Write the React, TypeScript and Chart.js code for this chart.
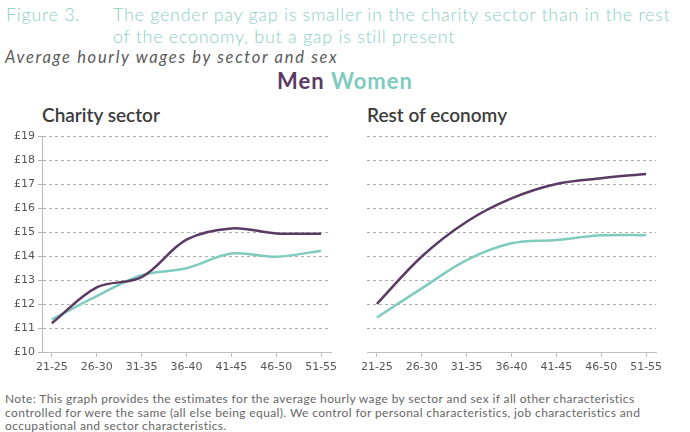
import React, { useEffect, useRef } from "react";
import { Chart, registerables } from "chart.js";

Chart.register(...registerables);

const ageGroups = ["21-25", "26-30", "31-35", "36-40", "41-45", "46-50", "51-55"];
const charityMen = [11.2, 12.69, 13.12, 14.68, 15.15, 14.94, 14.93];
const charityWomen = [11.36, 12.33, 13.2, 13.49, 14.1, 13.97, 14.22];
const restMen = [12.0, 13.98, 15.43, 16.4, 17.0, 17.24, 17.42];
const restWomen = [11.44, 12.65, 13.83, 14.53, 14.67, 14.86, 14.87];
const wageTicks = [10, 11, 12, 13, 14, 15, 16, 17, 18, 19];

const MEN_COLOR = "#5a3a63";
const WOMEN_COLOR = "#7fcbbf";
const AXIS_COLOR = "#bdbdbd";
const GRID_COLOR = "#b0b0b0";

function buildConfig(men: number[], women: number[], showY: boolean, yWidth: number, padRight: number): any {
  const toPoints = (arr: number[]) => arr.map((v, i) => ({ x: i, y: v }));
  const lineStyle = { borderWidth: 2.5, pointRadius: 0, tension: 0.35, fill: false };
  return {
    type: "line",
    data: {
      datasets: [
        { label: "Men", data: toPoints(men), borderColor: MEN_COLOR, ...lineStyle },
        { label: "Women", data: toPoints(women), borderColor: WOMEN_COLOR, ...lineStyle },
      ],
    },
    options: {
      responsive: false,
      animation: false,
      events: [],
      layout: { padding: { top: 16, right: padRight, bottom: 0, left: 0 } },
      plugins: { legend: { display: false }, tooltip: { enabled: false } },
      scales: {
        x: {
          type: "linear",
          min: -0.22,
          max: 6.22,
          afterBuildTicks: (scale: any) => {
            scale.ticks = ageGroups.map((_, i) => ({ value: i }));
          },
          afterFit: (scale: any) => {
            scale.height = 33;
          },
          ticks: {
            callback: (v: any) => ageGroups[v] ?? "",
            autoSkip: false,
            maxRotation: 0,
            padding: 4,
            color: "#555555",
            font: { size: 11, family: "DejaVu Sans" },
          },
          grid: { drawOnChartArea: false, drawTicks: true, tickLength: 5, color: AXIS_COLOR, tickColor: AXIS_COLOR },
          border: { display: true, color: AXIS_COLOR, width: 1 },
        },
        y: {
          type: "linear",
          min: 10,
          max: 19,
          afterBuildTicks: (scale: any) => {
            scale.ticks = wageTicks.map((v) => ({ value: v }));
          },
          afterFit: (scale: any) => {
            scale.width = yWidth;
          },
          ticks: {
            display: showY,
            callback: (v: any) => "£" + v,
            padding: 3,
            color: "#555555",
            font: { size: 11, family: "DejaVu Sans" },
          },
          grid: { color: GRID_COLOR, lineWidth: 1, drawTicks: showY, tickLength: 4, tickColor: GRID_COLOR },
          border: { display: showY, color: AXIS_COLOR, width: 1, dash: [3, 3] },
        },
      },
    },
  };
}

function Panel(props: { men: number[]; women: number[]; showY: boolean; yWidth: number; padRight: number; left: number }) {
  const ref = useRef<HTMLCanvasElement>(null);
  useEffect(() => {
    if (!ref.current) return;
    const chart = new Chart(ref.current, buildConfig(props.men, props.women, props.showY, props.yWidth, props.padRight));
    return () => chart.destroy();
  }, []);
  return (
    <canvas
      ref={ref}
      width={345}
      height={265}
      style={{ position: "absolute", left: props.left, top: 120, width: 345, height: 265 }}
    />
  );
}

const baseText: React.CSSProperties = { position: "absolute", whiteSpace: "nowrap", fontFamily: "Lato, sans-serif" };

export default function App() {
  return (
    <div style={{ position: "absolute", left: 0, top: 0, width: 690, height: 432, overflow: "hidden", background: "#ffffff" }}>
      <div style={{ ...baseText, left: 6, top: 4, fontSize: 18, lineHeight: "21.5px", fontWeight: 300, letterSpacing: 0.7, color: "#8ccfc3" }}>Figure 3.</div>
      <div style={{ ...baseText, left: 113, top: 4, fontSize: 18, lineHeight: "21.5px", fontWeight: 300, letterSpacing: 0.7, color: "#8ccfc3" }}>
        <div>The gender pay gap is smaller in the charity sector than in the rest</div>
        <div>of the economy, but a gap is still present</div>
      </div>
      <div style={{ ...baseText, left: 5, top: 48, fontSize: 16.5, lineHeight: "18px", fontStyle: "italic", letterSpacing: 1.7, color: "#5a5a5a" }}>
        Average hourly wages by sector and sex
      </div>
      <div style={{ ...baseText, left: 0, width: 690, textAlign: "center", top: 68, fontSize: 22, lineHeight: "26px", fontWeight: 700, letterSpacing: 1.0 }}>
        <span style={{ color: MEN_COLOR }}>Men</span> <span style={{ color: WOMEN_COLOR }}>Women</span>
      </div>
      <div style={{ ...baseText, left: 42, top: 103, fontSize: 19, lineHeight: "24px", fontWeight: 600, color: "#3c3c3c" }}>Charity sector</div>
      <div style={{ ...baseText, left: 367, top: 103, fontSize: 19, lineHeight: "24px", fontWeight: 600, color: "#3c3c3c" }}>Rest of economy</div>
      <Panel men={charityMen} women={charityWomen} showY={true} yWidth={42} padRight={14} left={0} />
      <Panel men={restMen} women={restWomen} showY={false} yWidth={22} padRight={34} left={345} />
      <div style={{ ...baseText, left: 5, top: 392, fontSize: 12, lineHeight: "13.5px", letterSpacing: 0.38, color: "#666666" }}>
        <div>Note: This graph provides the estimates for the average hourly wage by sector and sex if all other characteristics</div>
        <div>controlled for were the same (all else being equal). We control for personal characteristics, job characteristics and</div>
        <div>occupational and sector characteristics.</div>
      </div>
    </div>
  );
}
